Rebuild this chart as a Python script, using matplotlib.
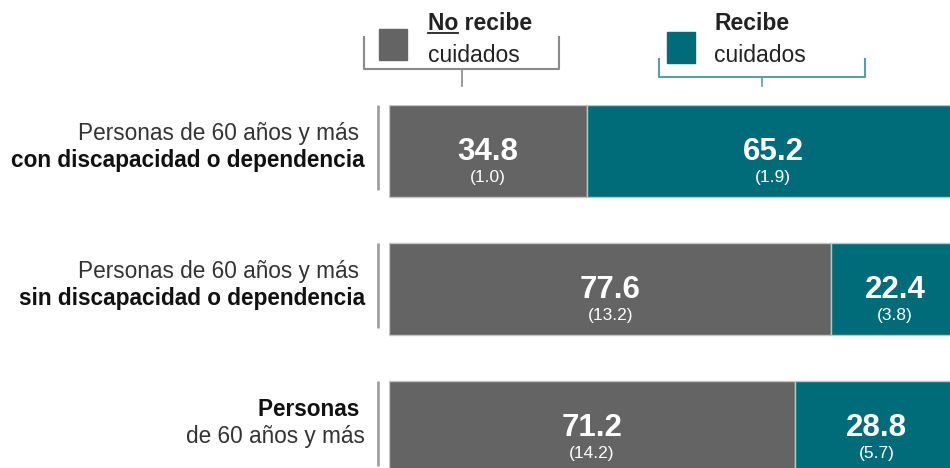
import matplotlib
matplotlib.use("Agg")
import matplotlib.pyplot as plt
from matplotlib.patches import Rectangle
from matplotlib.lines import Line2D

plt.rcParams["font.family"] = ["Liberation Sans", "DejaVu Sans"]

# ── data ──────────────────────────────────────────────────────────────────
label_top = ["Personas de 60 años y más ", "Personas de 60 años y más ", "Personas "]
label_bottom = ["con discapacidad o dependencia", "sin discapacidad o dependencia", "de 60 años y más"]
top_bold = [False, False, True]
no_recibe = [34.8, 77.6, 71.2]
no_recibe_err = [1.0, 13.2, 14.2]
recibe = [65.2, 22.4, 28.8]
recibe_err = [1.9, 3.8, 5.7]

GRAY = "#646464"
TEAL = "#006c7a"
W, H = 950, 468

fig = plt.figure(figsize=(9.5, 4.68), dpi=100)


def fx(x):
    return x / W


def fy(y):
    return 1 - y / H


# axes spans 0-100 from px 389 to 959 (cut by the figure edge)
ax = fig.add_axes([fx(389), fy(473), 570 / W, 368 / H])
ax.set_xlim(0, 100)
ax.set_ylim(2.333, -0.333)
ax.axis("off")

ypos = list(range(len(no_recibe)))
ax.barh(ypos, no_recibe, height=0.667, color=GRAY, edgecolor="#c4c4c4", linewidth=1)
ax.barh(ypos, recibe, left=no_recibe, height=0.667, color=TEAL, edgecolor="#c4c4c4", linewidth=1)

for i in ypos:
    for left, val, err in [(0, no_recibe[i], no_recibe_err[i]),
                           (no_recibe[i], recibe[i], recibe_err[i])]:
        cx = left + val / 2
        ax.text(cx, i + 0.005, f"{val:.1f}", ha="center", va="center",
                color="white", fontsize=22.5, fontweight="bold")
        ax.text(cx, i + 0.19, f"({err:.1f})", ha="center", va="center",
                color="white", fontsize=12.5)

    # category labels
    ax.text(-4.2, i - 0.13, label_top[i], ha="right", va="center", clip_on=False,
            fontsize=16.3, color="#111111" if top_bold[i] else "#333333",
            fontweight="bold" if top_bold[i] else "normal")
    ax.text(-4.2, i + 0.07, label_bottom[i], ha="right", va="center", clip_on=False,
            fontsize=16.3, color="#333333" if top_bold[i] else "#111111",
            fontweight="normal" if top_bold[i] else "bold")
    ax.plot([-1.93, -1.93], [i - 0.333, i + 0.283], color="#a0a0a0", lw=2,
            clip_on=False, solid_capstyle="butt")

# ── legend with brackets ──────────────────────────────────────────────────
fig.patches.append(Rectangle((fx(379), fy(60)), 28 / W, 31 / H, color=GRAY,
                             transform=fig.transFigure))
fig.patches.append(Rectangle((fx(667), fy(63)), 28 / W, 31 / H, color=TEAL,
                             transform=fig.transFigure))

fig.text(fx(428), fy(23), "No recibe", ha="left", va="center",
         fontsize=16.5, fontweight="bold", color="#222222")
fig.text(fx(428), fy(55), "cuidados", ha="left", va="center", fontsize=16.5, color="#222222")
fig.text(fx(714), fy(23), "Recibe", ha="left", va="center",
         fontsize=16.5, fontweight="bold", color="#222222")
fig.text(fx(714), fy(55), "cuidados", ha="left", va="center", fontsize=16.5, color="#222222")

# underline "No"
probe = fig.text(fx(428), fy(23), "No", ha="left", va="center",
                 fontsize=16.5, fontweight="bold", alpha=0)
fig.canvas.draw()
bb = probe.get_window_extent()
fig.lines.append(Line2D([fx(428), fx(428) + bb.width / W], [fy(33), fy(33)],
                        color="#222222", lw=1.3, transform=fig.transFigure))


def bracket(x0, x1, ytop, ybot, ytick, color):
    xm = (x0 + x1) / 2
    fig.lines.append(Line2D([fx(x0), fx(x0), fx(x1), fx(x1)],
                            [fy(ytop), fy(ybot), fy(ybot), fy(ytop)],
                            color=color, lw=1.5, transform=fig.transFigure))
    fig.lines.append(Line2D([fx(xm), fx(xm)], [fy(ybot), fy(ytick)],
                            color=color, lw=1.2, transform=fig.transFigure))


bracket(364, 559, 37, 69, 86, "#8a8a8a")
bracket(659, 865, 59, 77, 86, "#5a9ea8")

fig.savefig("out.png", dpi=100)
